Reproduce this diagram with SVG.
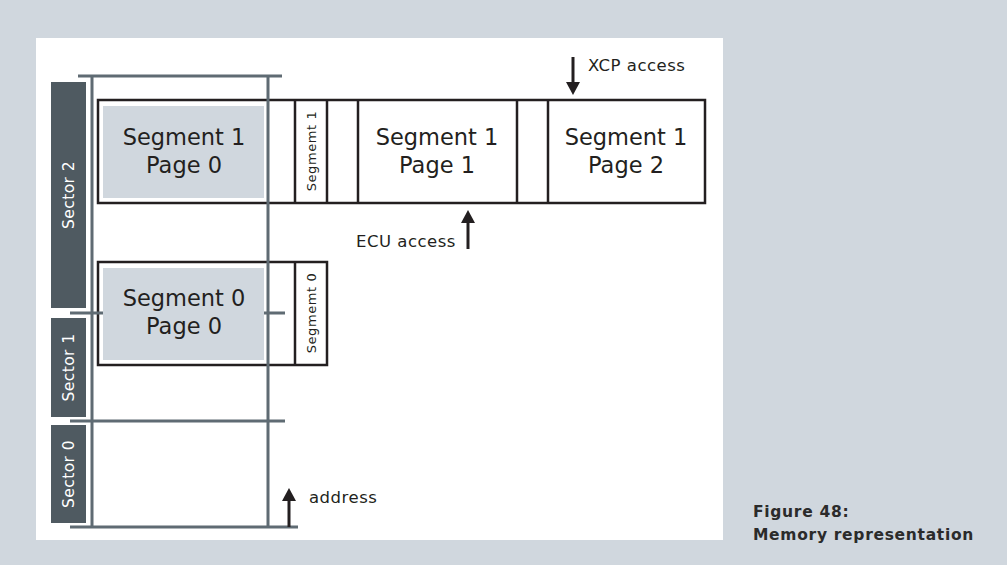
<svg xmlns="http://www.w3.org/2000/svg" width="1007" height="565" viewBox="0 0 1007 565">
<style>
.bg{fill:#d0d7de}
.panel{fill:#ffffff}
.sector{fill:#4f5a61}
.box{fill:#ffffff;stroke:#231f20;stroke-width:2.5}
.div{stroke:#231f20;stroke-width:2.5}
.grid{stroke:#5f6b73;stroke-width:3;fill:none}
.page{fill:#d0d7de}
.big{font-family:"DejaVu Sans",sans-serif;font-size:22.5px;fill:#231f20;text-anchor:middle}
.vert{font-family:"DejaVu Sans",sans-serif;font-size:13px;fill:#231f20;text-anchor:middle;letter-spacing:0.6px}
.sec{font-family:"DejaVu Sans",sans-serif;font-size:15.5px;fill:#ffffff;text-anchor:middle;letter-spacing:0.4px}
.lbl{font-family:"DejaVu Sans",sans-serif;font-size:16.5px;fill:#231f20;letter-spacing:0.5px}
.cap{font-family:"DejaVu Sans",sans-serif;font-size:15.5px;font-weight:bold;fill:#2b2b2b;letter-spacing:0.7px}
.arr{stroke:#231f20;stroke-width:3;fill:none;marker-end:url(#head)}
</style>
<defs>
<marker id="head" markerUnits="userSpaceOnUse" markerWidth="14" markerHeight="14" refX="9" refY="7" orient="auto">
<path d="M0,0 L13,7 L0,14 z" fill="#231f20"/>
</marker>
</defs>
<rect class="bg" x="0" y="0" width="1007" height="565"/>
<rect class="panel" x="36" y="38" width="687" height="502"/>

<g id="sector2"><rect class="sector" x="51" y="82" width="35" height="226"/><text class="sec" transform="translate(74,195) rotate(-90)">Sector 2</text></g>
<g id="sector1"><rect class="sector" x="51" y="318" width="35" height="99"/><text class="sec" transform="translate(74,367.5) rotate(-90)">Sector 1</text></g>
<g id="sector0"><rect class="sector" x="51" y="425" width="35" height="98"/><text class="sec" transform="translate(74,474) rotate(-90)">Sector 0</text></g>

<g id="segment1-row">
<rect class="box" x="98" y="100" width="607" height="103"/>
<line class="div" x1="295" y1="100" x2="295" y2="203"/>
<line class="div" x1="327" y1="100" x2="327" y2="203"/>
<line class="div" x1="358" y1="100" x2="358" y2="203"/>
<line class="div" x1="517" y1="100" x2="517" y2="203"/>
<line class="div" x1="548" y1="100" x2="548" y2="203"/>
</g>
<g id="segment0-row">
<rect class="box" x="98" y="262" width="229" height="103"/>
<line class="div" x1="295" y1="262" x2="295" y2="365"/>
</g>

<g id="address-grid">
<line class="grid" x1="78" y1="76" x2="282" y2="76"/>
<line class="grid" x1="92" y1="76" x2="92" y2="527"/>
<line class="grid" x1="268" y1="76" x2="268" y2="527"/>
<line class="grid" x1="70" y1="313" x2="285" y2="313"/>
<line class="grid" x1="70" y1="421" x2="285" y2="421"/>
<line class="grid" x1="70" y1="527" x2="298" y2="527"/>
</g>

<g id="seg1-page0">
<rect class="page" x="103" y="106" width="161" height="92"/>
<text class="big" x="184" y="145">Segment 1</text>
<text class="big" x="184" y="173">Page 0</text>
</g>
<g id="seg1-label"><text class="vert" transform="translate(316,151) rotate(-90)">Segmemt 1</text></g>
<g id="seg1-page1">
<text class="big" x="437" y="145">Segment 1</text>
<text class="big" x="437" y="173">Page 1</text>
</g>
<g id="seg1-page2">
<text class="big" x="626" y="145">Segment 1</text>
<text class="big" x="626" y="173">Page 2</text>
</g>
<g id="seg0-page0">
<rect class="page" x="103" y="268" width="161" height="92"/>
<text class="big" x="184" y="306">Segment 0</text>
<text class="big" x="184" y="334">Page 0</text>
</g>
<g id="seg0-label"><text class="vert" transform="translate(316,313) rotate(-90)">Segmemt 0</text></g>

<g id="connectors">
<line class="arr" x1="573" y1="57" x2="573" y2="91"/>
<line class="arr" x1="468" y1="249" x2="468" y2="214"/>
<line class="arr" x1="289" y1="527" x2="289" y2="492"/>
</g>

<g id="labels">
<text class="lbl" x="588" y="71">XCP access</text>
<text class="lbl" x="356" y="247">ECU access</text>
<text class="lbl" x="309" y="503">address</text>
</g>

<g id="caption">
<text class="cap" x="753" y="517">Figure 48:</text>
<text class="cap" x="753" y="540">Memory representation</text>
</g>
</svg>
